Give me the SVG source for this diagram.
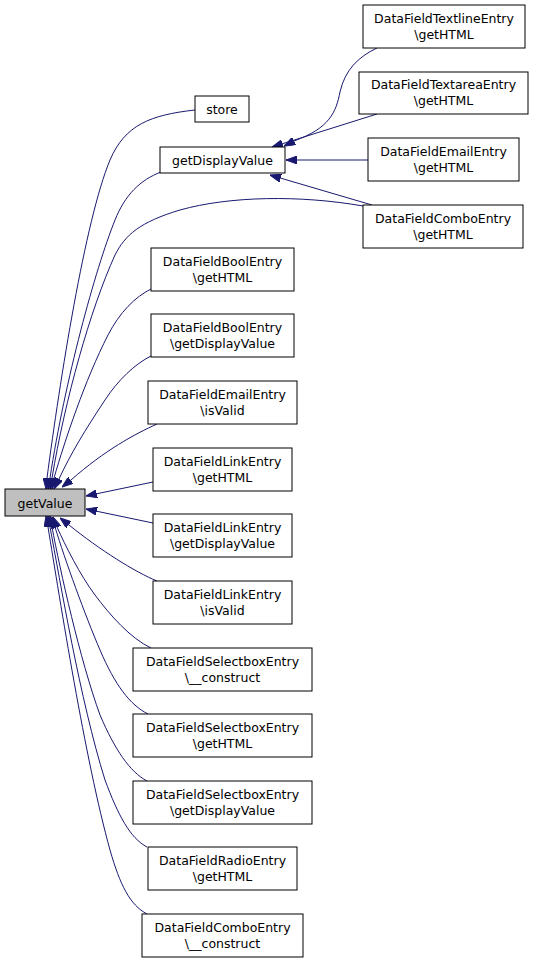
<svg xmlns="http://www.w3.org/2000/svg" width="533" height="963" viewBox="0 0 533 963">
<style>
.n rect{fill:#ffffff;stroke:#000000;stroke-width:1}
.n.cur rect{fill:#bfbfbf}
.n text{font-family:"DejaVu Sans",sans-serif;font-size:12.5px;fill:#000000;text-anchor:middle}
.e path{fill:none;stroke:#191970;stroke-width:1;marker-start:url(#ah)}
</style>
<defs>
<marker id="ah" viewBox="0 0 11 8" refX="11" refY="4" markerWidth="11" markerHeight="8" markerUnits="userSpaceOnUse" orient="auto-start-reverse">
<path d="M0,0 L11,4 L0,8 Z" fill="#191970" stroke="#191970" stroke-width="1"/>
</marker>
</defs>
<rect width="533" height="963" fill="#ffffff"/>
<g id="edges" class="e">
<path d="M46,489 L47,478 C60,380 85,220 110,160 C125,125 150,115 195,110"/>
<path d="M48,489 L50,478 C65,380 95,270 115,220 C125,195 140,180 161,172"/>
<path d="M50,489 L52,478 C65,400 90,310 115,255 C125,235 140,222 180,210 C230,196 300,195 363,206"/>
<path d="M52,489 L54,478 C65,440 85,380 108,335 C120,312 135,297 151,289"/>
<path d="M54,489 L59,479 C70,455 85,430 105,400 C118,380 135,364 151,356"/>
<path d="M62,487 L71,480 C105,450 135,434 157,424"/>
<path d="M86,496 L153,482"/>
<path d="M86,509 L153,523"/>
<path d="M60,518 L69,525 C100,550 135,572 157,581"/>
<path d="M53,517 L57,527 C65,545 80,575 95,595 C110,615 130,638 151,648"/>
<path d="M52,517 L55,527 C65,560 85,615 100,650 C115,685 130,705 148,714"/>
<path d="M50,516 L52,527 C60,570 80,660 100,715 C115,750 130,772 147,781"/>
<path d="M48,516 L50,527 C60,580 80,700 105,780 C118,815 130,838 147,847"/>
<path d="M46,516 L48,527 C60,600 85,760 110,850 C120,885 130,905 147,914"/>
<path d="M284,146 L294,141 C330,128 336,112 340,92 C345,70 358,57 377,48"/>
<path d="M272,147 L377,114"/>
<path d="M286,160 L368,160"/>
<path d="M270,175 L372,205"/>
</g>
<g id="getValue" class="n cur"><rect x="5" y="489" width="80" height="27"/><text x="45" y="507.5">getValue</text></g>
<g id="store" class="n"><rect x="195" y="96" width="54" height="26"/><text x="222" y="114">store</text></g>
<g id="getDisplayValue" class="n"><rect x="160" y="147" width="125" height="26"/><text x="222.5" y="165">getDisplayValue</text></g>
<g id="textlineGetHTML" class="n"><rect x="363" y="5" width="162" height="43"/><text x="444" y="22.5">DataFieldTextlineEntry</text><text x="444" y="38.5">\getHTML</text></g>
<g id="textareaGetHTML" class="n"><rect x="359" y="72" width="169" height="42"/><text x="443.5" y="89">DataFieldTextareaEntry</text><text x="443.5" y="105">\getHTML</text></g>
<g id="emailGetHTML" class="n"><rect x="368" y="138" width="151" height="43"/><text x="443.5" y="155.5">DataFieldEmailEntry</text><text x="443.5" y="171.5">\getHTML</text></g>
<g id="comboGetHTML" class="n"><rect x="363" y="205" width="160" height="43"/><text x="443" y="222.5">DataFieldComboEntry</text><text x="443" y="238.5">\getHTML</text></g>
<g id="boolGetHTML" class="n"><rect x="151" y="248" width="143" height="43"/><text x="222.5" y="265.5">DataFieldBoolEntry</text><text x="222.5" y="281.5">\getHTML</text></g>
<g id="boolGetDisplayValue" class="n"><rect x="151" y="314" width="143" height="43"/><text x="222.5" y="331.5">DataFieldBoolEntry</text><text x="222.5" y="347.5">\getDisplayValue</text></g>
<g id="emailIsValid" class="n"><rect x="148" y="381" width="149" height="43"/><text x="222.5" y="398.5">DataFieldEmailEntry</text><text x="222.5" y="414.5">\isValid</text></g>
<g id="linkGetHTML" class="n"><rect x="153" y="448" width="139" height="43"/><text x="222.5" y="465.5">DataFieldLinkEntry</text><text x="222.5" y="481.5">\getHTML</text></g>
<g id="linkGetDisplayValue" class="n"><rect x="153" y="514" width="139" height="43"/><text x="222.5" y="531.5">DataFieldLinkEntry</text><text x="222.5" y="547.5">\getDisplayValue</text></g>
<g id="linkIsValid" class="n"><rect x="153" y="581" width="139" height="43"/><text x="222.5" y="598.5">DataFieldLinkEntry</text><text x="222.5" y="614.5">\isValid</text></g>
<g id="selectboxConstruct" class="n"><rect x="133" y="648" width="179" height="43"/><text x="222.5" y="665.5">DataFieldSelectboxEntry</text><text x="222.5" y="681.5">\__construct</text></g>
<g id="selectboxGetHTML" class="n"><rect x="133" y="714" width="179" height="43"/><text x="222.5" y="731.5">DataFieldSelectboxEntry</text><text x="222.5" y="747.5">\getHTML</text></g>
<g id="selectboxGetDisplayValue" class="n"><rect x="133" y="781" width="179" height="43"/><text x="222.5" y="798.5">DataFieldSelectboxEntry</text><text x="222.5" y="814.5">\getDisplayValue</text></g>
<g id="radioGetHTML" class="n"><rect x="148" y="847" width="149" height="43"/><text x="222.5" y="864.5">DataFieldRadioEntry</text><text x="222.5" y="880.5">\getHTML</text></g>
<g id="comboConstruct" class="n"><rect x="142" y="914" width="161" height="43"/><text x="222.5" y="931.5">DataFieldComboEntry</text><text x="222.5" y="947.5">\__construct</text></g>
</svg>
